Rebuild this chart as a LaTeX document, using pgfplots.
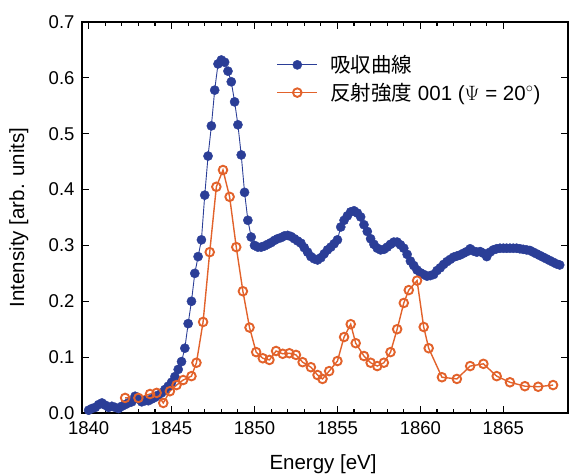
\documentclass[border=0pt]{standalone}
\usepackage{pgfplots}
\pgfplotsset{compat=1.18}
\usepackage{pgfplotstable}
\usepackage{fontspec}
\setmainfont{Liberation Sans}
\newfontfamily\cjk{Noto Sans CJK JP}
\definecolor{cblue}{HTML}{2B3E97}
\definecolor{corange}{HTML}{E2622B}

\pgfplotstableread{
x y
1840.0 0.005
1840.2 0.008
1840.4 0.010
1840.6 0.015
1840.8 0.018
1841.0 0.014
1841.2 0.010
1841.4 0.012
1841.6 0.010
1841.8 0.008
1842.0 0.012
1842.2 0.015
1842.4 0.018
1842.6 0.020
1842.8 0.030
1843.0 0.025
1843.2 0.020
1843.4 0.022
1843.6 0.022
1843.8 0.025
1844.0 0.028
1844.2 0.032
1844.4 0.036
1844.6 0.042
1844.8 0.048
1845.0 0.055
1845.2 0.065
1845.4 0.078
1845.6 0.092
1845.8 0.116
1846.0 0.160
1846.2 0.200
1846.4 0.250
1846.6 0.280
1846.8 0.310
1847.0 0.390
1847.2 0.460
1847.4 0.514
1847.6 0.578
1847.8 0.625
1848.0 0.632
1848.2 0.628
1848.4 0.612
1848.6 0.593
1848.8 0.557
1849.0 0.516
1849.2 0.462
1849.4 0.395
1849.6 0.345
1849.8 0.315
1850.0 0.300
1850.2 0.297
1850.4 0.297
1850.6 0.299
1850.8 0.302
1851.0 0.305
1851.2 0.309
1851.4 0.312
1851.6 0.314
1851.8 0.317
1852.0 0.318
1852.2 0.316
1852.4 0.312
1852.6 0.308
1852.8 0.304
1853.0 0.296
1853.2 0.288
1853.4 0.280
1853.6 0.276
1853.8 0.274
1854.0 0.278
1854.2 0.285
1854.4 0.292
1854.6 0.297
1854.8 0.303
1855.0 0.310
1855.2 0.333
1855.4 0.345
1855.6 0.353
1855.8 0.360
1856.0 0.362
1856.2 0.358
1856.4 0.351
1856.6 0.337
1856.8 0.325
1857.0 0.312
1857.2 0.302
1857.4 0.295
1857.6 0.292
1857.8 0.293
1858.0 0.297
1858.2 0.302
1858.4 0.306
1858.6 0.306
1858.8 0.301
1859.0 0.295
1859.2 0.284
1859.4 0.272
1859.6 0.264
1859.8 0.256
1860.0 0.251
1860.2 0.248
1860.4 0.245
1860.6 0.246
1860.8 0.248
1861.0 0.255
1861.2 0.260
1861.4 0.266
1861.6 0.271
1861.8 0.275
1862.0 0.279
1862.2 0.281
1862.4 0.283
1862.6 0.286
1862.8 0.289
1863.0 0.294
1863.2 0.290
1863.4 0.288
1863.6 0.289
1863.8 0.286
1864.0 0.280
1864.2 0.288
1864.4 0.292
1864.6 0.294
1864.8 0.295
1865.0 0.295
1865.2 0.295
1865.4 0.295
1865.6 0.295
1865.8 0.295
1866.0 0.294
1866.2 0.293
1866.4 0.292
1866.6 0.291
1866.8 0.288
1867.0 0.285
1867.2 0.282
1867.4 0.279
1867.6 0.276
1867.8 0.273
1868.0 0.270
1868.2 0.267
1868.4 0.265
}\absdata

\pgfplotstableread{
x y
1842.2 0.027
1843.0 0.027
1843.7 0.034
1844.1 0.036
1844.5 0.018
1844.9 0.039
1845.3 0.050
1845.7 0.059
1846.2 0.066
1846.5 0.090
1846.9 0.163
1847.3 0.288
1847.7 0.405
1848.1 0.435
1848.5 0.387
1848.9 0.297
1849.3 0.218
1849.7 0.153
1850.1 0.109
1850.5 0.098
1850.9 0.095
1851.3 0.111
1851.7 0.106
1852.1 0.107
1852.5 0.104
1852.9 0.091
1853.4 0.082
1853.8 0.068
1854.1 0.061
1854.5 0.075
1855.0 0.093
1855.4 0.136
1855.8 0.159
1856.1 0.125
1856.6 0.102
1857.0 0.090
1857.4 0.084
1857.8 0.090
1858.2 0.109
1858.6 0.150
1859.0 0.197
1859.3 0.220
1859.8 0.237
1860.2 0.154
1860.5 0.116
1861.3 0.064
1862.2 0.061
1863.0 0.084
1863.8 0.088
1864.6 0.066
1865.4 0.055
1866.3 0.048
1867.1 0.047
1868.0 0.050
}\refdata

\begin{document}
\begin{tikzpicture}
\begin{axis}[
  scale only axis,
  width=486pt, height=391pt,
  xmin=1839.6, xmax=1868.9,
  ymin=0, ymax=0.7,
  xtick={1840,1845,...,1865},
  ytick={0,0.1,...,0.7},
  minor x tick num=4,
  tick align=inside,
  major tick length=7pt,
  minor tick length=4pt,
  axis line style={line width=1.1pt},
  every tick/.style={line width=1.1pt, black},
  tick label style={font=\fontsize{18.5}{20}\selectfont},
  xticklabel style={yshift=-5pt},
  yticklabel style={xshift=-4pt, /pgf/number format/fixed, /pgf/number format/fixed zerofill, /pgf/number format/precision=1},
  label style={font=\fontsize{20.5}{22}\selectfont},
  /pgf/number format/assume math mode=true,
  /pgf/number format/1000 sep={},
  xlabel={Energy [eV]},
  ylabel={Intensity [arb. units]},
  xlabel style={at={(axis description cs:0.496,-0.13)}, anchor=center},
  ylabel style={at={(axis description cs:-0.130,0.5)}, anchor=center},
  legend style={draw=none, fill=none, at={(0.40,0.92)}, anchor=north west,
    font=\fontsize{20.5}{22}\selectfont, row sep=5pt, inner sep=0pt},
  legend cell align=left,
  legend image code/.code={
    \draw[mark repeat=2,mark phase=2] plot coordinates {(0pt,0pt) (20pt,0pt) (40pt,0pt)};
    \path[draw=none, fill=none] (0pt,0pt) rectangle (51pt,0.1pt);
  },
]
\addplot[color=cblue, line width=0.9pt, mark=*, mark size=4.6pt, mark options={fill=cblue, draw=cblue, line width=0.4pt}] table[x=x,y=y] {\absdata};
\addlegendentry{{\cjk 吸収曲線}}
\addplot[color=corange, line width=1.4pt, mark=o, mark size=4.3pt, mark options={fill=white, draw=corange, line width=1.9pt}] table[x=x,y=y] {\refdata};
\addlegendentry{{\cjk 反射強度} 001 ($\Psi$ = 20$^{\circ}$)}
\end{axis}
\path (current axis.south west) ++(-82pt,-63pt) coordinate (bl);
\path (current axis.north east) ++(2pt,22pt) coordinate (tr);
\pgfresetboundingbox
\path (bl) rectangle (tr);
\end{tikzpicture}
\end{document}
